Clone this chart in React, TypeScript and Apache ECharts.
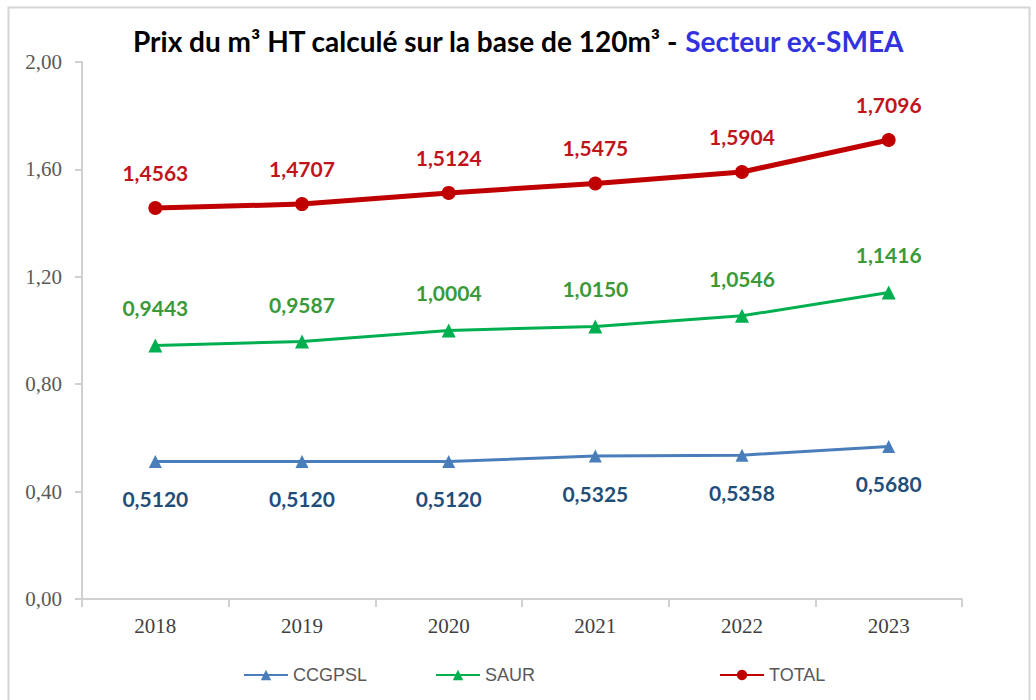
import React, { useEffect, useRef } from "react";
import * as echarts from "echarts";

const years = ["2018", "2019", "2020", "2021", "2022", "2023"];
const ccgpsl = [0.512, 0.512, 0.512, 0.5325, 0.5358, 0.568];
const saur = [0.9443, 0.9587, 1.0004, 1.015, 1.0546, 1.1416];
const total = [1.4563, 1.4707, 1.5124, 1.5475, 1.5904, 1.7096];
const yTicks = [0, 0.4, 0.8, 1.2, 1.6, 2.0];

const fmt4 = (v: number) => v.toFixed(4).replace(".", ",");
const fmt2 = (v: number) => v.toFixed(2).replace(".", ",");

export default function App() {
  const ref = useRef<HTMLDivElement>(null);
  useEffect(() => {
    if (!ref.current) return;
    const chart = echarts.init(ref.current, undefined, { renderer: "svg" });
    const labelFont = { fontFamily: "Lato", fontWeight: "bold" as const, fontSize: 21 };
    const legendText = { fontFamily: "Liberation Sans", fontSize: 18, color: "#595959" };
    chart.setOption({
      animation: false,
      backgroundColor: "#ffffff",
      title: {
        text: "{a|Prix du m³ HT calculé sur la base de 120m³ - }{b|Secteur ex-SMEA}",
        left: "center",
        top: 22,
        textStyle: {
          rich: {
            a: { fontFamily: "Lato", fontWeight: "bold", fontSize: 28, color: "#000000" },
            b: { fontFamily: "Lato", fontWeight: "bold", fontSize: 28, color: "#3333dd" },
          },
        },
      },
      graphic: [
        {
          type: "rect",
          shape: { x: 8.5, y: 7.5, width: 1021, height: 700 },
          style: { fill: "none", stroke: "#d6d6d6", lineWidth: 2 },
          silent: true,
        },
      ],
      legend: [
        {
          data: ["CCGPSL"],
          left: 238,
          top: 661,
          itemWidth: 44,
          itemHeight: 13,
          itemGap: 4,
          textStyle: legendText,
        },
        {
          data: ["SAUR"],
          left: 430,
          top: 661,
          itemWidth: 44,
          itemHeight: 13,
          textStyle: legendText,
        },
        {
          data: ["TOTAL"],
          left: 714,
          top: 661,
          itemWidth: 44,
          itemHeight: 13,
          textStyle: legendText,
        },
      ],
      grid: { left: 82, right: 74, top: 62, bottom: 101, containLabel: false },
      xAxis: {
        type: "category",
        data: years,
        boundaryGap: true,
        axisLine: { lineStyle: { color: "#d0d0d0", width: 2 } },
        axisTick: { show: true, length: 8, lineStyle: { color: "#d0d0d0", width: 2 } },
        axisLabel: { fontFamily: "Liberation Serif", fontSize: 21, color: "#404040", margin: 16 },
      },
      yAxis: {
        type: "value",
        min: 0,
        max: 2,
        interval: 0.4,
        axisLine: { show: true, lineStyle: { color: "#d0d0d0", width: 2 } },
        axisTick: { show: true, length: 7, lineStyle: { color: "#d0d0d0", width: 2 } },
        splitLine: { show: false },
        axisLabel: {
          fontFamily: "Liberation Serif",
          fontSize: 21,
          color: "#595959",
          margin: 20,
          formatter: (v: number) => (yTicks.includes(Math.round(v * 10) / 10) ? fmt2(v) : ""),
        },
      },
      series: [
        {
          name: "CCGPSL",
          type: "line",
          data: ccgpsl,
          symbol: "triangle",
          symbolSize: 13,
          color: "#4a7ebb",
          lineStyle: { width: 3, color: "#4a7ebb" },
          itemStyle: { color: "#4a7ebb" },
          label: {
            show: true,
            position: "bottom",
            distance: 20,
            color: "#1f4e79",
            ...labelFont,
            formatter: (p: any) => fmt4(p.value),
          },
        },
        {
          name: "SAUR",
          type: "line",
          data: saur,
          symbol: "triangle",
          symbolSize: 14,
          color: "#00b050",
          lineStyle: { width: 3, color: "#00b050" },
          itemStyle: { color: "#00b050" },
          label: {
            show: true,
            position: "top",
            distance: 20,
            color: "#3a9a3a",
            ...labelFont,
            formatter: (p: any) => fmt4(p.value),
          },
        },
        {
          name: "TOTAL",
          type: "line",
          data: total,
          symbol: "circle",
          symbolSize: 14,
          color: "#c00000",
          lineStyle: { width: 5, color: "#c00000" },
          itemStyle: { color: "#c00000" },
          label: {
            show: true,
            position: "top",
            distance: 18,
            color: "#c0141c",
            ...labelFont,
            formatter: (p: any) => fmt4(p.value),
          },
        },
      ],
    });
    return () => chart.dispose();
  }, []);
  return (
    <div
      ref={ref}
      style={{ position: "fixed", left: 0, top: 0, width: 1036, height: 700 }}
    />
  );
}
